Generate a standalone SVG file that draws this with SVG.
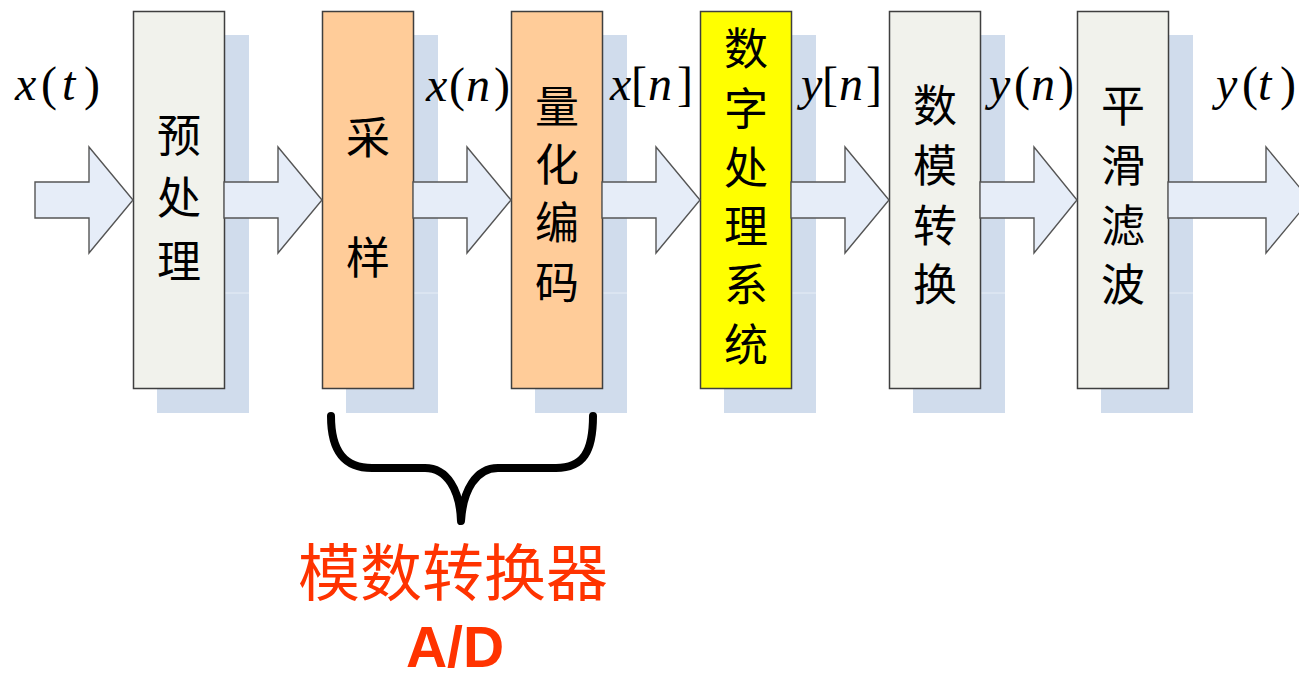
<svg xmlns="http://www.w3.org/2000/svg" width="1299" height="680" viewBox="0 0 1299 680">
<style>
.shadow{fill:#D0DCEC}
.sline{stroke:#E6EDF6;stroke-width:1}
.box{stroke:#3F3F3F;stroke-width:1.5}
.gray{fill:#F1F2EC}
.orange{fill:#FFCC99}
.yellow{fill:#FFFF00}
.arrow{fill:#E6EDF8;stroke:#555555;stroke-width:1.4;stroke-linejoin:miter}
.cjk{font-family:"Noto Sans CJK SC","Noto Sans CJK JP",sans-serif;font-size:44px;fill:#000;text-anchor:middle}
.math{font-family:"Liberation Serif","Times New Roman",serif;font-size:48px;fill:#000}
.it{font-style:italic}
.red{font-family:"Noto Sans CJK SC",sans-serif;font-size:62px;fill:#FF3300;text-anchor:middle}
.ad{font-family:"Liberation Sans",Arial,sans-serif;font-size:57px;font-weight:bold;fill:#FF3300;text-anchor:middle}
</style>
<g id="shadows">
<rect class="shadow" x="157" y="35" width="92" height="378"/>
<rect class="shadow" x="346" y="35" width="92" height="378"/>
<rect class="shadow" x="535" y="35" width="92" height="378"/>
<rect class="shadow" x="724" y="35" width="92" height="378"/>
<rect class="shadow" x="913" y="35" width="92" height="378"/>
<rect class="shadow" x="1101" y="35" width="92" height="378"/>
<line class="sline" x1="224" y1="293" x2="249" y2="293"/>
<line class="sline" x1="413" y1="293" x2="438" y2="293"/>
<line class="sline" x1="602" y1="293" x2="627" y2="293"/>
<line class="sline" x1="791" y1="293" x2="816" y2="293"/>
<line class="sline" x1="980" y1="293" x2="1005" y2="293"/>
<line class="sline" x1="1168" y1="293" x2="1193" y2="293"/>
</g>
<g id="n1"><rect class="box gray" x="133.5" y="11.5" width="91" height="377"/>
<text class="cjk"><tspan x="179" y="152">预</tspan><tspan x="179" y="214">处</tspan><tspan x="179" y="278">理</tspan></text></g>
<g id="n2"><rect class="box orange" x="322.5" y="11.5" width="91" height="377"/>
<text class="cjk"><tspan x="368" y="154">采</tspan><tspan x="368" y="274">样</tspan></text></g>
<g id="n3"><rect class="box orange" x="511.5" y="11.5" width="91" height="377"/>
<text class="cjk"><tspan x="557" y="123">量</tspan><tspan x="557" y="181">化</tspan><tspan x="557" y="239">编</tspan><tspan x="557" y="299">码</tspan></text></g>
<g id="n4"><rect class="box yellow" x="700.5" y="11.5" width="91" height="377"/>
<text class="cjk"><tspan x="746" y="65">数</tspan><tspan x="746" y="125">字</tspan><tspan x="746" y="184">处</tspan><tspan x="746" y="243">理</tspan><tspan x="746" y="301">系</tspan><tspan x="746" y="361">统</tspan></text></g>
<g id="n5"><rect class="box gray" x="889.5" y="11.5" width="91" height="377"/>
<text class="cjk"><tspan x="935" y="122">数</tspan><tspan x="935" y="182">模</tspan><tspan x="935" y="242">转</tspan><tspan x="935" y="301">换</tspan></text></g>
<g id="n6"><rect class="box gray" x="1077.5" y="11.5" width="91" height="377"/>
<text class="cjk"><tspan x="1123" y="122">平</tspan><tspan x="1123" y="182">滑</tspan><tspan x="1123" y="242">滤</tspan><tspan x="1123" y="301">波</tspan></text></g>
<g id="connectors">
<path class="arrow" d="M35,182 H89 V147 L133,200 L89,253 V218 H35 Z"/>
<path class="arrow" d="M224,182 H278 V147 L322,200 L278,253 V218 H224 Z"/>
<path class="arrow" d="M413,182 H467 V147 L511,200 L467,253 V218 H413 Z"/>
<path class="arrow" d="M602,182 H656 V147 L700,200 L656,253 V218 H602 Z"/>
<path class="arrow" d="M791,182 H845 V147 L889,200 L845,253 V218 H791 Z"/>
<path class="arrow" d="M980,182 H1034 V147 L1077,200 L1034,253 V218 H980 Z"/>
<path class="arrow" d="M1168,182 H1266 V147 L1310,200 L1266,253 V218 H1168 Z"/>
</g>
<g id="labels">
<text class="math" y="100"><tspan class="it" x="15">x</tspan><tspan x="41">(</tspan><tspan class="it" x="62">t</tspan><tspan x="84">)</tspan></text>
<text class="math" y="101"><tspan class="it" x="426">x</tspan><tspan x="449">(</tspan><tspan class="it" x="466">n</tspan><tspan x="494">)</tspan></text>
<text class="math" y="100"><tspan class="it" x="610">x</tspan><tspan x="631">[</tspan><tspan class="it" x="648">n</tspan><tspan x="677">]</tspan></text>
<text class="math" y="100"><tspan class="it" x="801">y</tspan><tspan x="822">[</tspan><tspan class="it" x="839">n</tspan><tspan x="866">]</tspan></text>
<text class="math" y="100"><tspan class="it" x="989">y</tspan><tspan x="1014">(</tspan><tspan class="it" x="1031">n</tspan><tspan x="1058">)</tspan></text>
<text class="math" y="100"><tspan class="it" x="1216">y</tspan><tspan x="1242">(</tspan><tspan class="it" x="1258">t</tspan><tspan x="1280">)</tspan></text>
</g>
<g id="brace">
<path d="M331,416 C331,452 345,468 372,468 L425,468 C447,468 460,490 461,521 C463,490 476,468 498,468 L556,468 C583,468 593,452 593,416" fill="none" stroke="#000" stroke-width="8" stroke-linecap="round" stroke-linejoin="round"/>
<text class="red" x="453" y="596">模数转换器</text>
<text class="ad" x="455" y="667">A/D</text>
</g>
</svg>
